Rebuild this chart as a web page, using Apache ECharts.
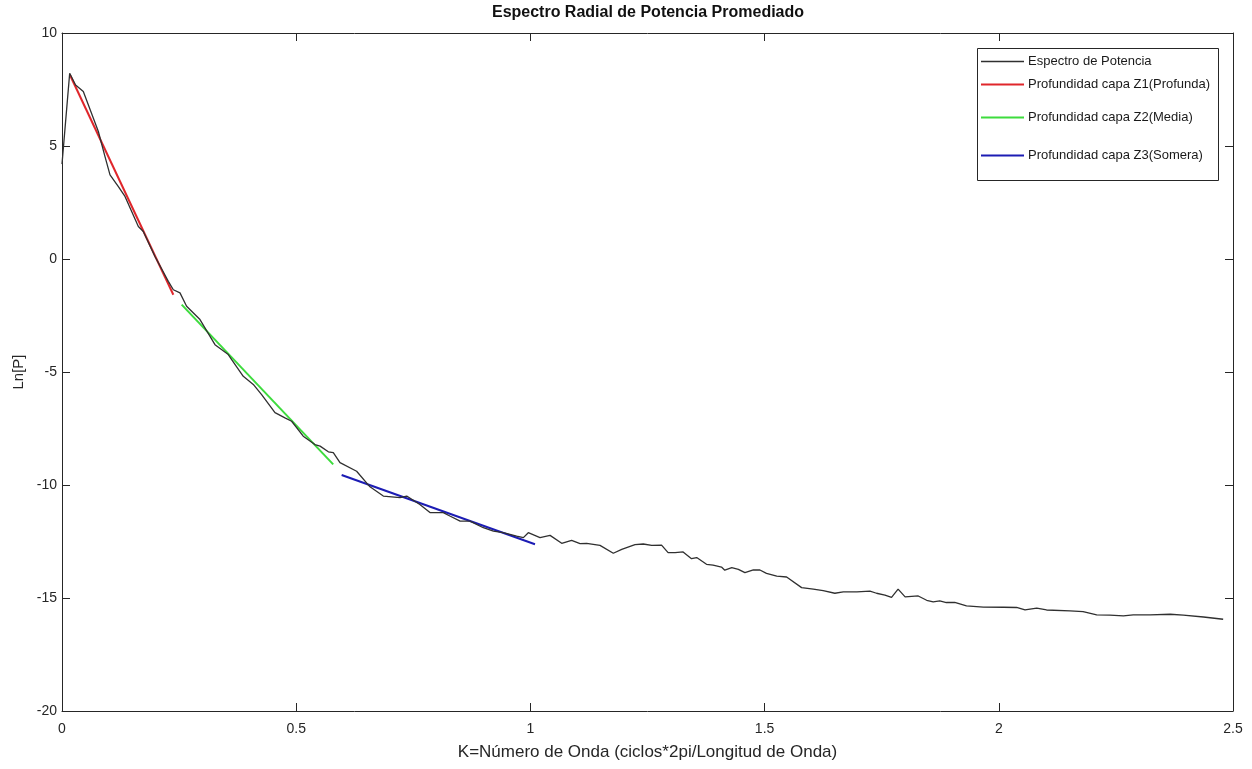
<!DOCTYPE html>
<html>
<head>
<meta charset="utf-8">
<script src="https://cdn.jsdelivr.net/npm/echarts@6/dist/echarts.min.js"></script>
<style>
  html, body { margin: 0; padding: 0; background: #fff; }
  #chart { width: 1252px; height: 769px; }
</style>
</head>
<body>
<div id="chart"></div>
<script>
// Averaged radial power spectrum: wavenumber K vs ln(P)
const kValues = [
  0, 0.0164, 0.029, 0.0455, 0.0776, 0.0918, 0.1025, 0.120, 0.1345, 0.163,
  0.1736, 0.1985, 0.227, 0.2377, 0.2519, 0.266, 0.2946, 0.3266, 0.355, 0.3622,
  0.387, 0.4084, 0.4262, 0.4547, 0.476, 0.4903, 0.515, 0.540, 0.551, 0.5686,
  0.5792, 0.5935, 0.629, 0.6575, 0.686, 0.7216, 0.7359, 0.764, 0.7856, 0.814,
  0.828, 0.85, 0.871, 0.8995, 0.921, 0.942, 0.9707, 0.985, 0.9955, 1.0205,
  1.042, 1.0668, 1.088, 1.106, 1.12, 1.1486, 1.177, 1.195, 1.2233, 1.241,
  1.259, 1.280, 1.294, 1.309, 1.326, 1.344, 1.355, 1.376, 1.390, 1.408,
  1.415, 1.43, 1.444, 1.458, 1.476, 1.490, 1.504, 1.526, 1.547, 1.579,
  1.604, 1.625, 1.650, 1.668, 1.697, 1.725, 1.739, 1.757, 1.771, 1.785,
  1.80, 1.828, 1.846, 1.860, 1.874, 1.888, 1.906, 1.931, 1.967, 2.010,
  2.038, 2.056, 2.081, 2.102, 2.152, 2.180, 2.209, 2.237, 2.266, 2.287,
  2.323, 2.366, 2.394, 2.437, 2.479
];
const lnPower = [
  4.2, 8.22, 7.70, 7.41, 5.64, 4.53, 3.72, 3.21, 2.77, 1.44,
  1.22, 0.11, -0.99, -1.36, -1.50, -2.09, -2.68, -3.79, -4.23, -4.45,
  -5.19, -5.55, -6.00, -6.80, -7.03, -7.18, -7.84, -8.21, -8.28, -8.53,
  -8.57, -9.01, -9.39, -10.08, -10.49, -10.56, -10.49, -10.86, -11.22, -11.22,
  -11.37, -11.6, -11.6, -11.89, -12.04, -12.11, -12.26, -12.33, -12.11, -12.33,
  -12.23, -12.58, -12.45, -12.59, -12.58, -12.67, -13.02, -12.85, -12.64, -12.61,
  -12.67, -12.66, -12.99, -12.99, -12.96, -13.26, -13.21, -13.51, -13.55, -13.63,
  -13.77, -13.66, -13.73, -13.88, -13.76, -13.76, -13.91, -14.03, -14.07, -14.54,
  -14.61, -14.67, -14.79, -14.73, -14.73, -14.70, -14.79, -14.87, -14.97, -14.61,
  -14.95, -14.91, -15.10, -15.17, -15.13, -15.20, -15.19, -15.35, -15.40, -15.41,
  -15.42, -15.53, -15.45, -15.53, -15.57, -15.60, -15.75, -15.76, -15.79, -15.75,
  -15.75, -15.72, -15.76, -15.84, -15.94
];

// Straight-line fits for each depth layer (endpoints)
const z1K = [0.017, 0.2377];
const z1Ln = [8.14, -1.58];
const z2K = [0.2555, 0.579];
const z2Ln = [-2.02, -9.09];
const z3K = [0.597, 1.0098];
const z3Ln = [-9.56, -12.62];

const seriesNames = [
  'Espectro de Potencia',
  'Profundidad capa Z1(Profunda)',
  'Profundidad capa Z2(Media)',
  'Profundidad capa Z3(Somera)'
];
const seriesColors = ['#303030', '#e0262b', '#3ddc3d', '#1c1cb4'];

const xTicks = { min: 0, max: 2.5, interval: 0.5 };
const yTicks = { min: -20, max: 10, interval: 5 };

const zip = (a, b) => a.map((v, i) => [v, b[i]]);

const FONT = 'Liberation Sans, Arial, sans-serif';
const AXIS_COLOR = '#262626';

const chart = echarts.init(document.getElementById('chart'), null, { renderer: 'canvas' });

const gridBox = { left: 62, right: 19, top: 33, bottom: 58 };

function boxAxis(extra) {
  return Object.assign({
    type: 'value',
    axisLine: { show: true, onZero: false, lineStyle: { color: AXIS_COLOR, width: 1 } },
    axisTick: { show: true, inside: true, length: 8, lineStyle: { color: AXIS_COLOR } },
    splitLine: { show: false },
    axisLabel: { color: AXIS_COLOR, fontFamily: FONT, fontSize: 14 }
  }, extra);
}

const legendTops = [55, 78, 111, 149];

chart.setOption({
  animation: false,
  backgroundColor: '#ffffff',
  grid: gridBox,
  graphic: [
    {
      type: 'text',
      x: 648, y: 5,
      style: {
        text: 'Espectro Radial de Potencia Promediado',
        fontFamily: FONT, fontSize: 16, fontWeight: 'bold',
        fill: '#111', textAlign: 'center'
      }
    },
    {
      type: 'rect',
      shape: { x: 977.5, y: 48.5, width: 241, height: 132 },
      style: { fill: '#fff', stroke: AXIS_COLOR, lineWidth: 1 },
      z: 50
    }
  ],
  legend: seriesNames.map((name, i) => ({
    data: [name],
    left: 981,
    top: legendTops[i],
    padding: 0,
    icon: 'rect',
    itemWidth: 43,
    itemHeight: i === 0 ? 1.3 : 2,
    itemGap: 4,
    textStyle: { color: '#1a1a1a', fontFamily: FONT, fontSize: 13, padding: [0, 0, 0, -1] },
    z: 60,
    selectedMode: false
  })),
  xAxis: [
    boxAxis({
      min: xTicks.min, max: xTicks.max, interval: xTicks.interval,
      position: 'bottom',
      name: 'K=Número de Onda (ciclos*2pi/Longitud de Onda)',
      nameLocation: 'middle', nameGap: 33,
      nameTextStyle: { color: AXIS_COLOR, fontFamily: FONT, fontSize: 17 },
      axisLabel: { color: AXIS_COLOR, fontFamily: FONT, fontSize: 14, margin: 11 }
    }),
    boxAxis({
      min: xTicks.min, max: xTicks.max, interval: xTicks.interval,
      position: 'top',
      axisLabel: { show: false }
    })
  ],
  yAxis: [
    boxAxis({
      min: yTicks.min, max: yTicks.max, interval: yTicks.interval,
      position: 'left',
      name: 'Ln[P]',
      nameLocation: 'middle', nameGap: 35, nameRotate: 90,
      nameTextStyle: { color: AXIS_COLOR, fontFamily: FONT, fontSize: 15 },
      axisLabel: { color: AXIS_COLOR, fontFamily: FONT, fontSize: 14, margin: 5 }
    }),
    boxAxis({
      min: yTicks.min, max: yTicks.max, interval: yTicks.interval,
      position: 'right',
      axisLabel: { show: false }
    })
  ],
  series: [
    {
      name: seriesNames[0], type: 'line', data: zip(kValues, lnPower),
      showSymbol: false, symbol: 'none',
      lineStyle: { color: seriesColors[0], width: 1.3 },
      itemStyle: { color: seriesColors[0] }, z: 3
    },
    {
      name: seriesNames[1], type: 'line', data: zip(z1K, z1Ln),
      showSymbol: false, symbol: 'none',
      lineStyle: { color: seriesColors[1], width: 2 },
      itemStyle: { color: seriesColors[1] }, z: 2
    },
    {
      name: seriesNames[2], type: 'line', data: zip(z2K, z2Ln),
      showSymbol: false, symbol: 'none',
      lineStyle: { color: seriesColors[2], width: 2 },
      itemStyle: { color: seriesColors[2] }, z: 2
    },
    {
      name: seriesNames[3], type: 'line', data: zip(z3K, z3Ln),
      showSymbol: false, symbol: 'none',
      lineStyle: { color: seriesColors[3], width: 2 },
      itemStyle: { color: seriesColors[3] }, z: 2
    }
  ]
});
</script>
</body>
</html>
